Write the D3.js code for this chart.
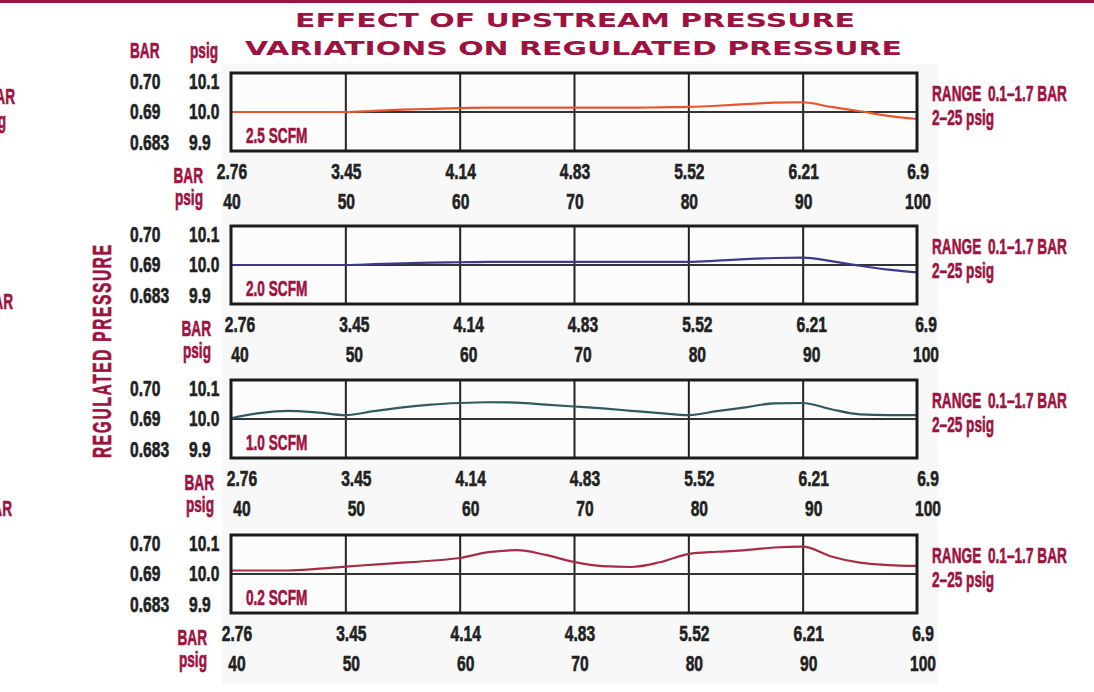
<!DOCTYPE html>
<html>
<head>
<meta charset="utf-8">
<script src="https://cdn.jsdelivr.net/npm/d3@7"></script>
<style>
  body { margin: 0; background: #fff; }
  svg { display: block; }
  .num { font-family: 'Liberation Sans', Arial, sans-serif; font-weight: bold; fill: #222; stroke: #222; stroke-width: 0.6px; font-size: 22px; }
  .red { font-family: 'Liberation Sans', Arial, sans-serif; font-weight: bold; fill: #9e1240; stroke: #9e1240; stroke-width: 0.6px; font-size: 22px; }
  .title { font-family: 'DejaVu Sans', sans-serif; font-weight: bold; fill: #9e1240; font-size: 20px; }
</style>
</head>
<body>
<svg id="chart"></svg>
<script>
// inlet pressure (psig) at which the curves were read
var psig = [40, 42.5, 45, 47.5, 50, 52.5, 55, 57.5, 60, 62.5, 65, 67.5, 70,
            72.5, 75, 77.5, 80, 82.5, 85, 87.5, 90, 92.5, 95, 97.5, 100];

var psigTicks = [40, 50, 60, 70, 80, 90, 100];
var barTicks = ["2.76", "3.45", "4.14", "4.83", "5.52", "6.21", "6.9"];

var yTicks = [10.1, 10.0, 9.9];
var yTickPsig = ["10.1", "10.0", "9.9"];
var yTickBar = ["0.70", "0.69", "0.683"];

var flows = ["2.5 SCFM", "2.0 SCFM", "1.0 SCFM", "0.2 SCFM"];

// regulated pressure (psig) for each flow
var scfm25 = [10.000, 10.000, 10.000, 10.000, 10.000, 10.003, 10.006, 10.008, 10.010, 10.011, 10.011, 10.011, 10.011,
              10.011, 10.011, 10.012, 10.013, 10.016, 10.020, 10.024, 10.025, 10.013, 10.002, 9.990, 9.982];
var scfm20 = [10.000, 10.000, 10.000, 10.000, 10.000, 10.002, 10.004, 10.006, 10.007, 10.008, 10.008, 10.008, 10.008,
              10.008, 10.008, 10.008, 10.008, 10.011, 10.015, 10.018, 10.019, 10.010, 9.998, 9.988, 9.981];
var scfm10 = [10.002, 10.015, 10.021, 10.017, 10.010, 10.020, 10.030, 10.037, 10.041, 10.043, 10.042, 10.037, 10.032,
              10.027, 10.021, 10.015, 10.010, 10.020, 10.030, 10.040, 10.041, 10.025, 10.012, 10.010, 10.010];
var scfm02 = [10.009, 10.009, 10.009, 10.013, 10.019, 10.024, 10.029, 10.034, 10.041, 10.056, 10.061, 10.049, 10.031,
              10.020, 10.018, 10.030, 10.051, 10.057, 10.061, 10.068, 10.070, 10.045, 10.029, 10.023, 10.021];

var series = [scfm25, scfm20, scfm10, scfm02];
var colors = ["#e8552c", "#3e3a8c", "#2e5a60", "#a52f42"];

var W = 1094, H = 692;
var left = 231, right = 917, ph = 78;
var tops = [73, 226, 380, 535];
var unitX = [203, 211, 214, 207];
var labelShift = [1, 9, 11, 6];
var numSx = 0.71, redSx = 0.62;

var svg = d3.select("#chart").attr("width", W).attr("height", H);

// condensed text: squeeze a regular bold face horizontally
function label(parent, x, y, str, cls, sx, anchor) {
    return parent.append("text").attr("class", cls)
        .attr("transform", "translate(" + x + "," + y + ") scale(" + sx + ",1)")
        .attr("text-anchor", anchor || "start")
        .text(str);
}

// scanned page tint and top rule
svg.append("rect").attr("x", 222).attr("y", 64).attr("width", 716).attr("height", 620).attr("fill", "#f8f8f8");
svg.append("rect").attr("x", 0).attr("y", 0).attr("width", W).attr("height", 3).attr("fill", "#9e1240");

// title
svg.append("text").attr("class", "title")
    .attr("x", 295).attr("y", 27)
    .attr("textLength", 560).attr("lengthAdjust", "spacingAndGlyphs")
    .text("EFFECT OF UPSTREAM PRESSURE");
svg.append("text").attr("class", "title")
    .attr("x", 245).attr("y", 55)
    .attr("textLength", 657).attr("lengthAdjust", "spacingAndGlyphs")
    .text("VARIATIONS ON REGULATED PRESSURE");

// y headers
label(svg, 130, 58, "BAR", "red", redSx);
label(svg, 190, 58, "psig", "red", redSx);

// vertical axis title
svg.append("text").attr("class", "red")
    .attr("transform", "translate(111,458) rotate(-90) scale(" + redSx + ",1)")
    .attr("textLength", 213 / redSx).attr("lengthAdjust", "spacing")
    .style("font-size", "25px")
    .text("REGULATED PRESSURE");

// cropped labels from the neighbouring page
[[15, 104, "BAR"], [6, 128, "psig"], [13, 309, "BAR"], [12, 516, "BAR"]].forEach(function(d) {
    label(svg, d[0], d[1], d[2], "red", redSx, "end");
});

var x = d3.scaleLinear().domain([40, 100]).range([left, right]);

series.forEach(function(vals, i) {
    var top = tops[i], bottom = top + ph;
    var y = d3.scaleLinear().domain([9.9, 10.1]).range([bottom, top]);
    var yLab = d3.scaleLinear().domain([9.9, 10.1]).range([bottom - 9, top + 8]);
    var dx = labelShift[i];
    var g = svg.append("g");

    g.append("rect").attr("x", left).attr("y", top).attr("width", right - left).attr("height", ph)
        .attr("fill", "#fcfcfc");

    // grid
    g.append("g")
        .attr("transform", "translate(0," + bottom + ")")
        .call(d3.axisBottom(x).tickValues(psigTicks.slice(1, -1)).tickSize(-ph).tickFormat(""))
        .call(function(a) { a.select(".domain").remove(); })
        .selectAll("line").attr("stroke", "#222").attr("stroke-width", 2);
    g.append("line")
        .attr("x1", left).attr("x2", right).attr("y1", y(10.0)).attr("y2", y(10.0))
        .attr("stroke", "#333").attr("stroke-width", 2);

    // curve
    g.append("path")
        .datum(psig.map(function(p, j) { return [p, vals[j]]; }))
        .attr("fill", "none").attr("stroke", colors[i]).attr("stroke-width", 2.2)
        .attr("d", d3.line().x(function(d) { return x(d[0]); }).y(function(d) { return y(d[1]); })
            .curve(d3.curveMonotoneX));

    // frame
    g.append("rect").attr("x", left).attr("y", top).attr("width", right - left).attr("height", ph)
        .attr("fill", "none").attr("stroke", "#1c1c1c").attr("stroke-width", 3);

    // x tick labels (BAR and psig rows)
    g.append("g").selectAll("text").data(psigTicks).enter().append("text")
        .attr("class", "num").attr("text-anchor", "middle")
        .attr("transform", function(d) { return "translate(" + (x(d) + dx) + "," + (bottom + 28) + ") scale(" + numSx + ",1)"; })
        .text(function(d, j) { return barTicks[j]; });
    g.append("g").selectAll("text").data(psigTicks).enter().append("text")
        .attr("class", "num").attr("text-anchor", "middle")
        .attr("transform", function(d) { return "translate(" + (x(d) + dx) + "," + (bottom + 58) + ") scale(" + numSx + ",1)"; })
        .text(function(d) { return d; });
    label(g, unitX[i], bottom + 32, "BAR", "red", redSx, "end");
    label(g, unitX[i], bottom + 54, "psig", "red", redSx, "end");

    // y tick labels
    g.append("g").selectAll("text").data(yTicks).enter().append("text")
        .attr("class", "num").attr("dy", "0.36em")
        .attr("transform", function(d) { return "translate(130," + yLab(d) + ") scale(" + numSx + ",1)"; })
        .text(function(d, j) { return yTickBar[j]; });
    g.append("g").selectAll("text").data(yTicks).enter().append("text")
        .attr("class", "num").attr("dy", "0.36em")
        .attr("transform", function(d) { return "translate(189," + yLab(d) + ") scale(" + numSx + ",1)"; })
        .text(function(d, j) { return yTickPsig[j]; });

    // flow label and range note
    label(g, 246, top + 70, flows[i], "red", redSx);
    label(g, 932, top + 28, "RANGE", "red", redSx);
    label(g, 988, top + 28, "0.1\u20131.7 BAR", "red", redSx);
    label(g, 932, top + 52, "2\u201325 psig", "red", redSx);
});
</script>
</body>
</html>
